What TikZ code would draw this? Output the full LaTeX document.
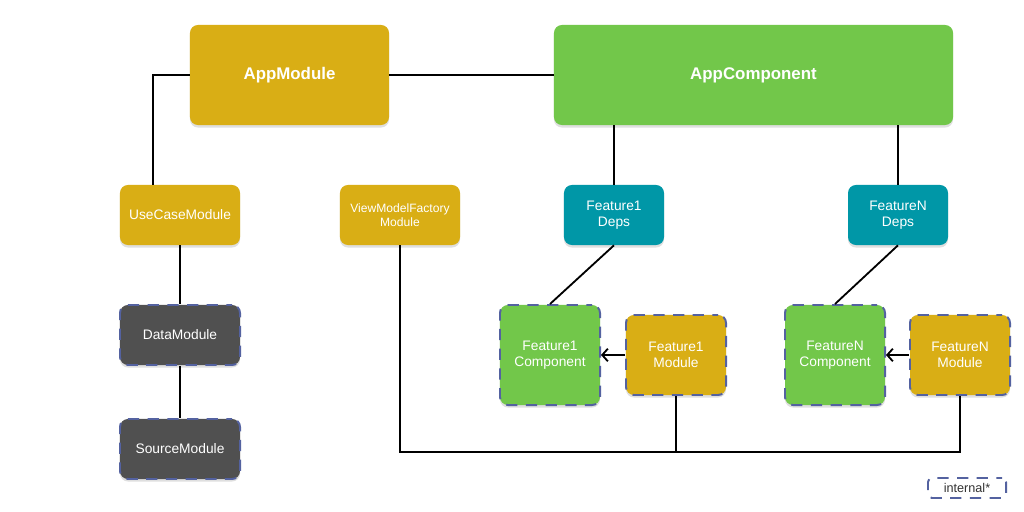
\documentclass[tikz,border=0pt]{standalone}
\usepackage{fontspec}
\setmainfont{Liberation Sans}
\usetikzlibrary{positioning,arrows.meta,shadows}
\definecolor{modgold}{HTML}{D9AE15}
\definecolor{compgreen}{HTML}{72C74A}
\definecolor{depsteal}{HTML}{0097A7}
\definecolor{internalgrey}{HTML}{505050}
\definecolor{dashblue}{HTML}{5462A0}
\definecolor{legendtext}{HTML}{333333}

\begin{document}
\begin{tikzpicture}[
    x=0.025cm,
    y=-0.025cm,
    box/.style={
        rounded corners=0.2cm,
        text=white,
        align=center,
        inner sep=0pt,
        drop shadow={opacity=0.25,shadow xshift=0pt,shadow yshift=-1.8pt}
    },
    bigbox/.style={
        box,
        minimum height=2.5cm,
        font=\fontsize{12}{14}\selectfont\bfseries
    },
    smallbox/.style={
        box,
        minimum width=3cm,
        minimum height=1.5cm,
        font=\fontsize{9.8}{11.5}\selectfont
    },
    featbox/.style={
        box,
        minimum width=2.5cm,
        font=\fontsize{9.8}{11.5}\selectfont
    },
    internal/.style={
        draw=dashblue,
        line width=1.4pt,
        dash pattern=on 8pt off 6pt,
        dash phase=4pt
    },
    link/.style={
        draw=black,
        line width=1.3pt
    }
]
\fill[white] (0,0) rectangle (1024,512);
\useasboundingbox (0,0) rectangle (1024,512);

% Top level
\node[bigbox, fill=modgold, minimum width=4.975cm] (appmod) at (289.5,75) {AppModule};
\node[bigbox, fill=compgreen, minimum width=9.975cm] (appcomp) at (753.5,75) {AppComponent};

% Second row
\node[smallbox, fill=modgold] (ucmod) at (180,215) {UseCaseModule};
\node[smallbox, fill=modgold, font=\fontsize{8.6}{10}\selectfont] (vmfmod) at (400,215) {ViewModelFactory\\Module};
\node[featbox, fill=depsteal, minimum height=1.5cm] (f1deps) at (614,215) {Feature1\\Deps};
\node[featbox, fill=depsteal, minimum height=1.5cm] (fndeps) at (898,215) {FeatureN\\Deps};

% Internal modules
\node[smallbox, fill=internalgrey, internal] (datamod) at (180,335) {DataModule};
\node[smallbox, fill=internalgrey, internal] (srcmod) at (180,449) {SourceModule};

% Feature components
\node[featbox, fill=compgreen, internal, minimum height=2.5cm] (f1comp) at (550,355) {Feature1\\Component};
\node[featbox, fill=modgold, internal, minimum height=2cm] (f1mod) at (676,355) {Feature1\\Module};
\node[featbox, fill=compgreen, internal, minimum height=2.5cm] (fncomp) at (835,355) {FeatureN\\Component};
\node[featbox, fill=modgold, internal, minimum height=2cm] (fnmod) at (960,355) {FeatureN\\Module};

% Legend
\node[internal, rounded corners=0.1cm, minimum width=1.95cm, minimum height=0.5cm,
      inner sep=0pt, text=legendtext, font=\fontsize{9}{10}\selectfont] (legend) at (967,488) {internal*};

% Edges from AppModule
\draw[link] (appmod.east) -- (appcomp.west);
\draw[link] (appmod.west) -| ([xshift=-0.675cm]ucmod.north);

% Edges from AppComponent
\draw[link] (f1deps.north |- appcomp.south) -- (f1deps.north);
\draw[link] (fndeps.north |- appcomp.south) -- (fndeps.north);

% Deps to components
\draw[link] (f1deps.south) -- (f1comp.north);
\draw[link] (fndeps.south) -- (fncomp.north);

% Internal chain
\draw[link] (ucmod.south) -- (datamod.north);
\draw[link] (datamod.south) -- (srcmod.north);

% Modules into components
\draw[link, -{Straight Barb[length=4pt,width=9pt]}] (f1mod.west) -- (f1comp.east);
\draw[link, -{Straight Barb[length=4pt,width=9pt]}] (fnmod.west) -- (fncomp.east);

% Bottom bus
\coordinate (bus) at (676,452);
\draw[link] (vmfmod.south) |- (bus) -| (fnmod.south);
\draw[link] (f1mod.south) -- (bus);
\end{tikzpicture}
\end{document}
